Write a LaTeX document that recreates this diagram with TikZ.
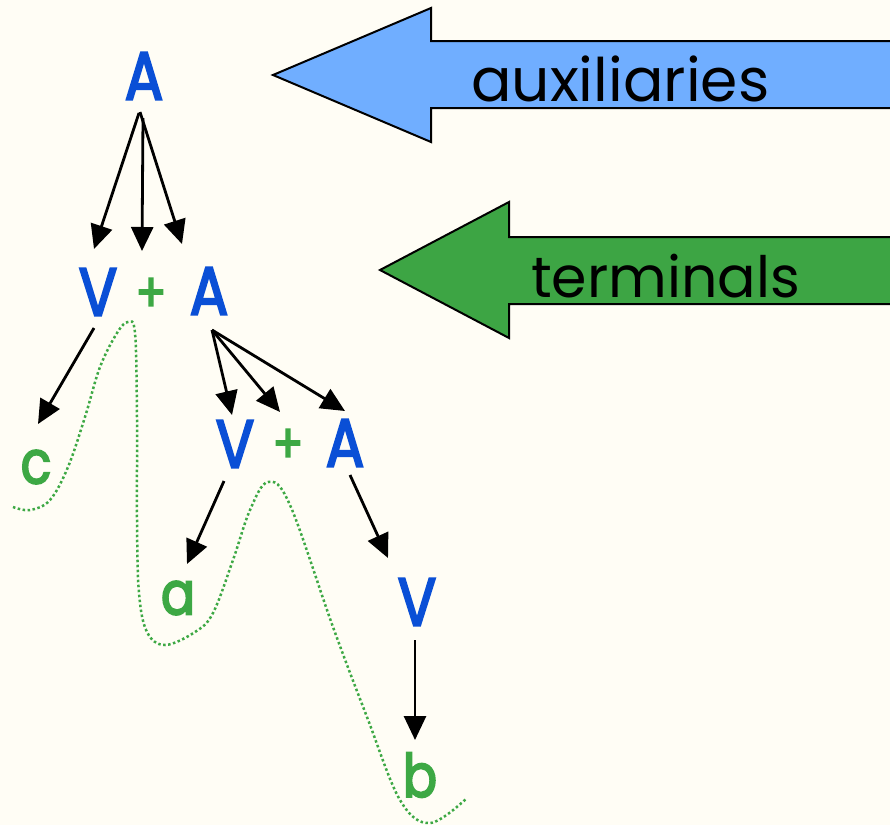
\documentclass[tikz,border=0pt]{standalone}
\usepackage{fontspec}
\setmainfont{Poppins}
\newfontfamily\treefont[FakeStretch=0.84,FakeBold=3]{Poppins}
\usetikzlibrary{arrows.meta,calc}
\definecolor{bg}{HTML}{FFFDF5}
\definecolor{tblue}{HTML}{0A4FD6}
\definecolor{tgreen}{HTML}{3DA844}
\definecolor{ablue}{HTML}{70AEFF}
\definecolor{agreen}{HTML}{3DA544}
\begin{document}
\begin{tikzpicture}[x=1pt,y=-1pt,
  sym/.style={inner sep=0pt, text=tblue, font=\fontsize{68}{68}\treefont},
  term/.style={inner sep=0pt, text=tgreen, font=\fontsize{60}{60}\treefont},
  plus/.style={inner sep=0pt, text=tgreen, font=\fontsize{54}{54}\treefont},
  arr/.style={line width=2.8pt, -{Triangle[length=24pt,width=22pt]}},
  bigarrow/.style={draw=black, line width=2pt, line join=miter},
  lbl/.style={inner sep=0pt, text=black, anchor=base west},
  wiggle/.style={tgreen, line width=2.5pt, dash pattern=on 2.5pt off 2.5pt}]
\fill[bg] (0,0) rectangle (890,825);
\useasboundingbox (0,0) rectangle (890,825);
\clip (0,0) rectangle (890,825);

% big arrows
\draw[bigarrow, fill=ablue] (900,41) -- (431,41) -- (431,8) -- (273,75) -- (431,142) -- (431,108) -- (900,108);
\draw[bigarrow, fill=agreen] (900,237) -- (509,237) -- (509,202) -- (380,270) -- (509,338) -- (509,304) -- (900,304);
\node[lbl, font=\fontsize{60}{60}\selectfont] (aux) at (471,101) {auxiliaries};
\node[lbl, font=\fontsize{57}{57}\selectfont] (ter) at (531,297) {terminals};

% tree
\node[sym] (A1) at (144,76) {A};
\node[sym] (V2) at (98,292) {V};
\node[plus] (P2) at (151,295) {+};
\node[sym] (A2) at (209,291) {A};
\node[term] (c) at (36,467) {c};
\node[sym] (V3) at (235,444) {V};
\node[plus] (P3) at (288,446) {+};
\node[sym] (A3) at (345,443) {A};
\node[term] (a) at (178,598) {a};
\node[sym] (V4) at (417,602) {V};
\node[term] (b) at (420,775) {b};

\draw[arr] ($(A1)+(-5,37)$) -- ($(V2)+(-4,-43)$);
\draw[arr] ($(A1)+(-1,42)$) -- ($(P2)+(-9,-44)$);
\draw[arr] ($(A1)+(-4,36)$) -- ($(A2)+(-27,-47)$);
\draw[arr] ($(V2)+(-4,36)$) -- ($(c)+(2,-43)$);
\draw[arr] ($(A2)+(3,39)$) -- ($(V3)+(-3,-29)$);
\draw[arr] ($(A2)+(3,39)$) -- ($(P3)+(-8,-34)$);
\draw[arr] ($(A2)+(3,39)$) -- ($(A3)+(0,-32)$);
\draw[arr] ($(V3)+(-11,37)$) -- ($(a)+(9,-34)$);
\draw[arr] ($(A3)+(5,32)$) -- ($(V4)+(-29,-44)$);
\draw[arr] ($(V4)+(-2,38)$) -- ($(b)+(-5,-35)$);

% dotted separation curve
\draw[wiggle] plot[smooth, tension=0.6] coordinates {
  (13,507) (30,510) (50,500) (68,467) (85,417) (100,367) (117,333) (128,322)
  (135,333) (137,417) (137,520) (139,593) (147,632) (165,645) (195,632) (213,613)
  (233,560) (250,510) (268,482) (290,505) (333,627) (367,717) (400,800) (430,823) (467,798)};
\end{tikzpicture}
\end{document}
